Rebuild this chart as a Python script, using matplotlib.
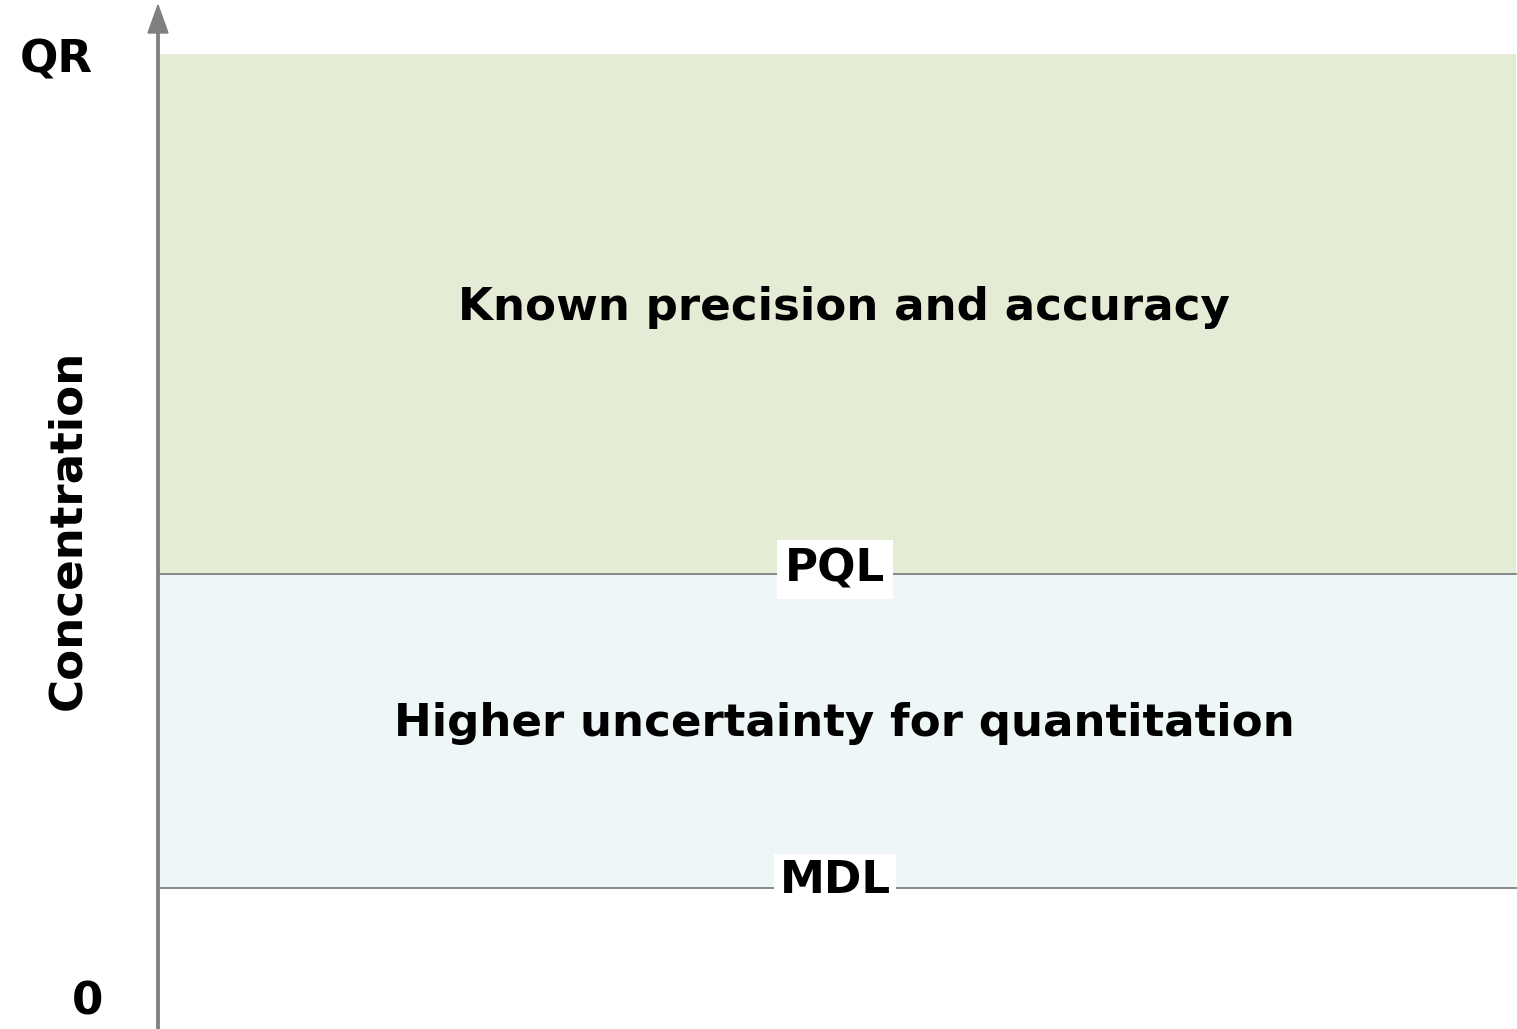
import matplotlib.pyplot as plt
from matplotlib.patches import FancyArrow

# concentration levels (arbitrary units)
level_names = ['0', 'MDL', 'PQL', 'QR']
level_values = [0, 1.18, 4.5, 10.0]
region_labels = ['Higher uncertainty for quantitation', 'Known precision and accuracy']
region_colors = ['#EEF6F8', '#E4ECD6']

plt.rcParams['font.family'] = ['DejaVu Sans']
FS = 32.5

fig = plt.figure(figsize=(15.17, 10.29), dpi=100)
ax = fig.add_axes([158 / 1517, 0, 1 - 158 / 1517, 1])
ax.set_xlim(0, 1)
ax.set_ylim(-0.31, 10.57)
ax.axis('off')

mdl, pql, qr = level_values[1], level_values[2], level_values[3]

# shaded regions
ax.axhspan(mdl, pql, xmin=0, xmax=0.999, color=region_colors[0], lw=0)
ax.axhspan(pql, qr, xmin=0, xmax=0.999, color=region_colors[1], lw=0)

# boundary lines
for v in (mdl, pql):
    ax.axhline(v, xmin=0, xmax=0.999, color='#808080', lw=1.3)

# region labels
xc = (844 - 158) / (1517 - 158)
ax.text(xc, (mdl + pql) / 2 + 0.08, region_labels[0], ha='center', va='center',
        fontsize=FS, fontweight='bold')
ax.text(xc, (pql + qr) / 2 + 0.07, region_labels[1], ha='center', va='center',
        fontsize=FS, fontweight='bold')

# line labels with white background
xl = (835 - 158) / (1517 - 158)
ax.text(xl, pql + 0.05, 'PQL', ha='center', va='center', fontsize=FS, fontweight='bold',
        bbox=dict(facecolor='white', edgecolor='none', pad=6))
ax.text(xl, mdl + 0.08, 'MDL', ha='center', va='center', fontsize=FS, fontweight='bold',
        bbox=dict(facecolor='white', edgecolor='none', pad=4))

# y-axis end labels
fig.text(56 / 1517, 1 - 60 / 1029, level_names[3], ha='center', va='center',
         fontsize=FS, fontweight='bold')
fig.text(88 / 1517, 1 - 1002 / 1029, level_names[0], ha='center', va='center',
         fontsize=FS, fontweight='bold')
fig.text(68 / 1517, 1 - 530 / 1029, 'Concentration', ha='center', va='center',
         rotation=90, fontsize=FS, fontweight='bold')

# vertical axis with arrow
fig.patches.append(FancyArrow(
    158 / 1517, 0, 0, 1 - 5 / 1029, width=1.6 / 1029, head_width=20 / 1517,
    head_length=28 / 1029, length_includes_head=True, color='#808080',
    transform=fig.transFigure, figure=fig))

fig.savefig('out.png', dpi=100)
